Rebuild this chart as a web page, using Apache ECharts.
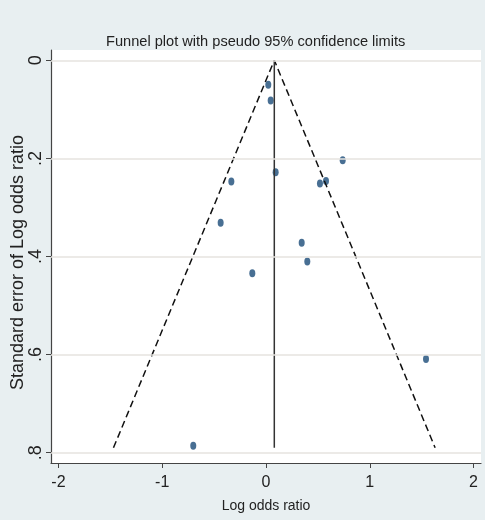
<!DOCTYPE html>
<html>
<head>
<meta charset="utf-8">
<script src="https://cdn.jsdelivr.net/npm/echarts@6/dist/echarts.min.js"></script>
<style>
html,body{margin:0;padding:0;background:#e8eff1;}
#chart{width:485px;height:520px;}
</style>
</head>
<body>
<div id="chart"></div>
<script>
// Study estimates
var logOddsRatio = [0.022, 0.045, 0.739, 0.093, -0.334, 0.520, 0.578, -0.437, 0.344, 0.398, -0.132, 1.542, -0.701];
var stdError     = [0.050, 0.082, 0.204, 0.228, 0.247, 0.251, 0.246, 0.331, 0.372, 0.410, 0.434, 0.609, 0.786];
// Pooled estimate line and pseudo 95% limits
var pooledX = [0.08, 0.08];
var pooledY = [0, 0.79];
var limitX = [-1.47, 0.08, 1.63];
var limitY = [0.79, 0, 0.79];
// Ticks
var xTicks = [-2, -1, 0, 1, 2];
var yTicks = [0, 0.2, 0.4, 0.6, 0.8];
var yTickLabels = ['0', '.2', '.4', '.6', '.8'];

var font = '"Liberation Sans", Arial, sans-serif';

function pairs(xs, ys){ return xs.map(function(x,i){ return [x, ys[i]]; }); }

var chart = echarts.init(document.getElementById('chart'), null, {renderer:'canvas'});
chart.setOption({
  backgroundColor: '#e8eff1',
  animation: false,
  title: {
    text: 'Funnel plot with pseudo 95% confidence limits',
    left: 101, top: 29,
    textStyle: {fontFamily: font, fontSize: 14.6, fontWeight: 'normal', color: '#222'}
  },
  grid: {left: 51, right: 4, top: 50, bottom: 57, show: true, backgroundColor: '#ffffff', borderWidth: 0,
    containLabel: false, outerBoundsMode: 'none'},
  xAxis: {
    type: 'value', min: -2.072, max: 2.072,
    name: 'Log odds ratio', nameLocation: 'middle', nameGap: 36, nameMoveOverlap: false,
    nameTextStyle: {fontFamily: font, fontSize: 14, color: '#222'},
    axisLine: {show: true, onZero: false, lineStyle: {color: '#444', width: 1.2}},
    axisTick: {show: true, length: 5, customValues: xTicks, lineStyle: {color: '#444'}},
    axisLabel: {customValues: xTicks, fontFamily: font, fontSize: 16, color: '#222', margin: 12,
      formatter: function(v){ return String(v); }},
    splitLine: {show: false}
  },
  yAxis: {
    type: 'value', inverse: true, min: -0.021, max: 0.821,
    name: 'Standard error of Log odds ratio', nameLocation: 'middle', nameGap: 24, nameRotate: 90,
    nameMoveOverlap: false,
    nameTextStyle: {fontFamily: font, fontSize: 18, color: '#222', padding: [0, 12, 0, 0]},
    axisLine: {show: true, onZero: false, lineStyle: {color: '#444', width: 1.2}},
    axisTick: {show: true, length: 5, customValues: yTicks, lineStyle: {color: '#444'}},
    axisLabel: {customValues: yTicks, rotate: 90, fontFamily: font, fontSize: 18, color: '#222', margin: 6,
      formatter: function(v){ var i = yTicks.indexOf(v); return i >= 0 ? yTickLabels[i] : ''; }},
    splitLine: {show: false}
  },
  series: [
    {
      type: 'line', data: [], silent: true,
      markLine: {
        symbol: 'none', silent: true, label: {show: false},
        lineStyle: {color: '#e6e3df', width: 1.6, type: 'solid'},
        data: yTicks.map(function(v){ return {yAxis: v}; })
      }
    },
    {
      type: 'line', data: pairs(limitX, limitY), symbol: 'none', silent: true,
      lineStyle: {color: '#111', width: 1.5, type: [7, 4]}
    },
    {
      type: 'line', data: pairs(pooledX, pooledY), symbol: 'none', silent: true,
      lineStyle: {color: '#333', width: 1.5}
    },
    {
      type: 'scatter', data: pairs(logOddsRatio, stdError),
      symbol: 'circle', symbolSize: [6, 8],
      itemStyle: {color: '#1a4b78'}
    }
  ]
});
</script>
</body>
</html>
